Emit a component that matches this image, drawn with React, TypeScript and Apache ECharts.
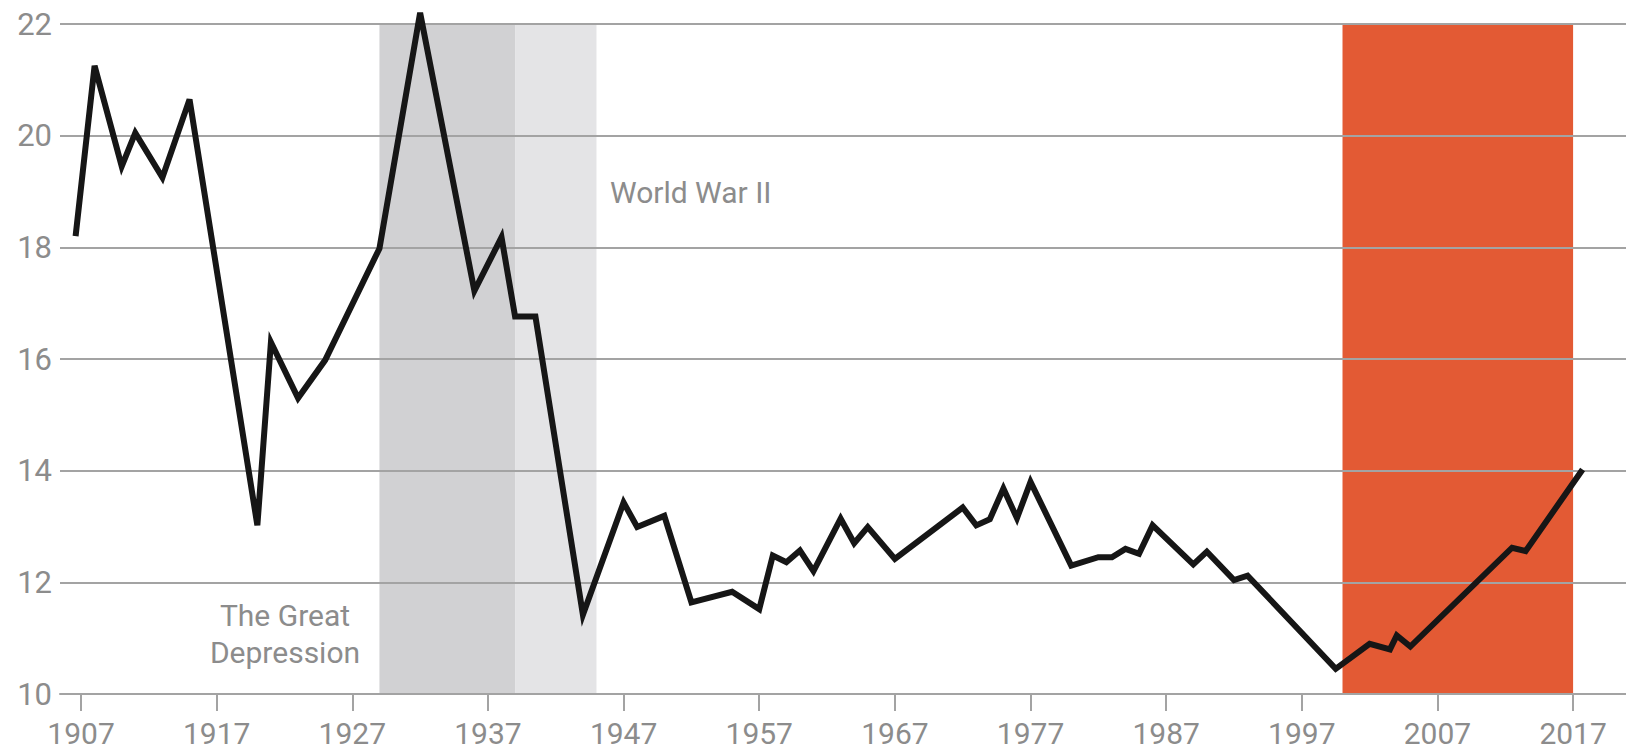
import React, { useEffect, useRef } from "react";
import * as echarts from "echarts";

// Series: year -> value
const years = [
  1906.6, 1908, 1910, 1911, 1913, 1915, 1920, 1921, 1923, 1925, 1929, 1932, 1936, 1938, 1939,
  1940.5, 1944, 1947, 1948, 1950, 1952, 1955, 1957, 1958, 1959, 1960, 1961, 1963, 1964, 1965,
  1967, 1972, 1973, 1974, 1975, 1976, 1977, 1980, 1982, 1983, 1984, 1985, 1986, 1989, 1990,
  1992, 1993, 1999.5, 2002, 2003.5, 2004, 2005, 2012.5, 2013.5, 2017.7,
];
const values = [
  18.2, 21.25, 19.45, 20.05, 19.25, 20.65, 13.02, 16.3, 15.3, 15.98, 17.98, 22.2, 17.22, 18.18, 16.76,
  16.76, 11.42, 13.43, 12.99, 13.19, 11.64, 11.83, 11.52, 12.48, 12.36, 12.57, 12.2, 13.14, 12.7, 12.99,
  12.42, 13.34, 13.02, 13.13, 13.68, 13.15, 13.8, 12.3, 12.45, 12.45, 12.6, 12.51, 13.02, 12.32, 12.55,
  12.04, 12.12, 10.45, 10.9, 10.8, 11.05, 10.85, 12.62, 12.56, 14.02,
];

// Axis ticks
const xTickYears = [1907, 1917, 1927, 1937, 1947, 1957, 1967, 1977, 1987, 1997, 2007, 2017];
const yMin = 10;
const yMax = 22;
const yStep = 2;

// Shaded periods
const bandStart = [1929, 1939, 2000];
const bandEnd = [1939, 1945, 2017];
const bandColor = ["#d1d1d3", "#e4e4e6", "#e35a34"];

const FONT = "Roboto, sans-serif";
const TEXT_GRAY = "#8c8c8c";
const GRID_GRAY = "#a3a3a3";

export default function App() {
  const ref = useRef<HTMLDivElement>(null);

  useEffect(() => {
    if (!ref.current) return;
    const chart = echarts.init(ref.current, null, { renderer: "svg" });

    const lineData = years.map((y, i) => [y, values[i]]);
    const bandData = bandStart.map((s, i) => [s, bandEnd[i]]);

    chart.setOption({
      animation: false,
      backgroundColor: "#ffffff",
      grid: { left: 60, right: 0, top: 24, bottom: 59, containLabel: false },
      xAxis: {
        type: "value",
        min: 1905.45,
        max: 2020.9,
        z: 2,
        axisLine: { show: true, lineStyle: { color: GRID_GRAY, width: 2 } },
        axisTick: {
          show: true,
          customValues: xTickYears,
          length: 17,
          lineStyle: { color: GRID_GRAY, width: 2 },
        },
        axisLabel: {
          customValues: xTickYears,
          margin: 24,
          color: TEXT_GRAY,
          fontSize: 30,
          fontFamily: FONT,
          formatter: (v: number) => String(Math.round(v)),
        },
        splitLine: { show: false },
      },
      yAxis: {
        type: "value",
        min: yMin,
        max: yMax,
        interval: yStep,
        z: 2,
        axisLine: { show: false },
        axisTick: { show: false },
        axisLabel: {
          margin: 8,
          color: TEXT_GRAY,
          fontSize: 31,
          fontFamily: FONT,
        },
        splitLine: { show: true, lineStyle: { color: GRID_GRAY, width: 2 } },
      },
      series: [
        {
          type: "custom",
          z: 1,
          silent: true,
          encode: { x: [0, 1] },
          data: bandData,
          renderItem: (params: any, api: any) => {
            const p0 = api.coord([api.value(0), yMax]);
            const p1 = api.coord([api.value(1), yMin]);
            return {
              type: "rect",
              shape: { x: p0[0], y: p0[1], width: p1[0] - p0[0], height: p1[1] - p0[1] },
              style: { fill: bandColor[params.dataIndex] },
            };
          },
        },
        {
          type: "line",
          z: 3,
          clip: false,
          symbol: "none",
          data: lineData,
          lineStyle: { color: "#161616", width: 6, join: "miter", miterLimit: 4 },
        },
      ],
      graphic: [
        {
          type: "text",
          x: 610,
          y: 192,
          style: {
            text: "World War II",
            fill: TEXT_GRAY,
            font: `30px ${FONT}`,
            align: "left",
            verticalAlign: "middle",
          },
        },
        {
          type: "text",
          x: 285,
          y: 615,
          style: {
            text: "The Great",
            fill: TEXT_GRAY,
            font: `30px ${FONT}`,
            align: "center",
            verticalAlign: "middle",
          },
        },
        {
          type: "text",
          x: 285,
          y: 652,
          style: {
            text: "Depression",
            fill: TEXT_GRAY,
            font: `30px ${FONT}`,
            align: "center",
            verticalAlign: "middle",
          },
        },
      ],
    });

    return () => chart.dispose();
  }, []);

  return (
    <div
      ref={ref}
      style={{ position: "absolute", left: 0, top: 0, width: 1626, height: 753, background: "#fff" }}
    />
  );
}
